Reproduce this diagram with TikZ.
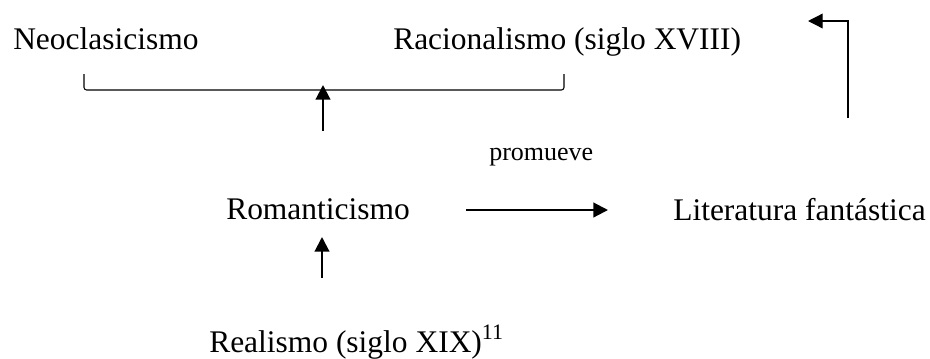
\documentclass[tikz,border=0pt]{standalone}
\usepackage{fontspec}
\setmainfont{Liberation Serif}
\usetikzlibrary{arrows.meta}
\begin{document}
\begin{tikzpicture}[x=0.75pt,y=-0.75pt,
  lbl/.style={anchor=base west,inner sep=0pt,font=\fontsize{23.6}{28}\selectfont},
  small/.style={anchor=base west,inner sep=0pt,font=\fontsize{19.5}{23}\selectfont},
  arr/.style={line width=1.6pt,-{Triangle[length=11pt,width=11pt]}},
  thinarr/.style={line width=1pt,-{Triangle[length=11pt,width=11pt]}},
  brk/.style={line width=0.8pt,rounded corners=2pt}]
\useasboundingbox (0,0) rectangle (930,358);
\node[lbl] (neo) at (13,49) {Neoclasicismo};
\node[lbl] (rac) at (393,49) {Racionalismo (siglo XVIII)};
\node[small] (prom) at (489,160) {promueve};
\node[lbl] (rom) at (226,219) {Romanticismo};
\node[lbl] (lit) at (673,220) {Literatura fantástica};
\node[lbl] (rea) at (209,352) {Realismo (siglo XIX)\textsuperscript{11}};
% bracket
\coordinate (bl) at (84,74);
\coordinate (br) at (564,74);
\draw[brk] (bl) -- (84,90) -- (564,90) -- (br);
% arrows
\coordinate (a1s) at (323,131);
\coordinate (a1e) at (323,85);
\draw[arr] (a1s) -- (a1e);
\coordinate (a2s) at (322,278);
\coordinate (a2e) at (322,237);
\draw[arr] (a2s) -- (a2e);
\coordinate (a3s) at (466,210);
\coordinate (a3e) at (608,210);
\draw[arr] (a3s) -- (a3e);
\coordinate (a4s) at (848,118);
\coordinate (a4e) at (808,21);
\draw[thinarr] (a4s) |- (a4e);
\end{tikzpicture}
\end{document}
